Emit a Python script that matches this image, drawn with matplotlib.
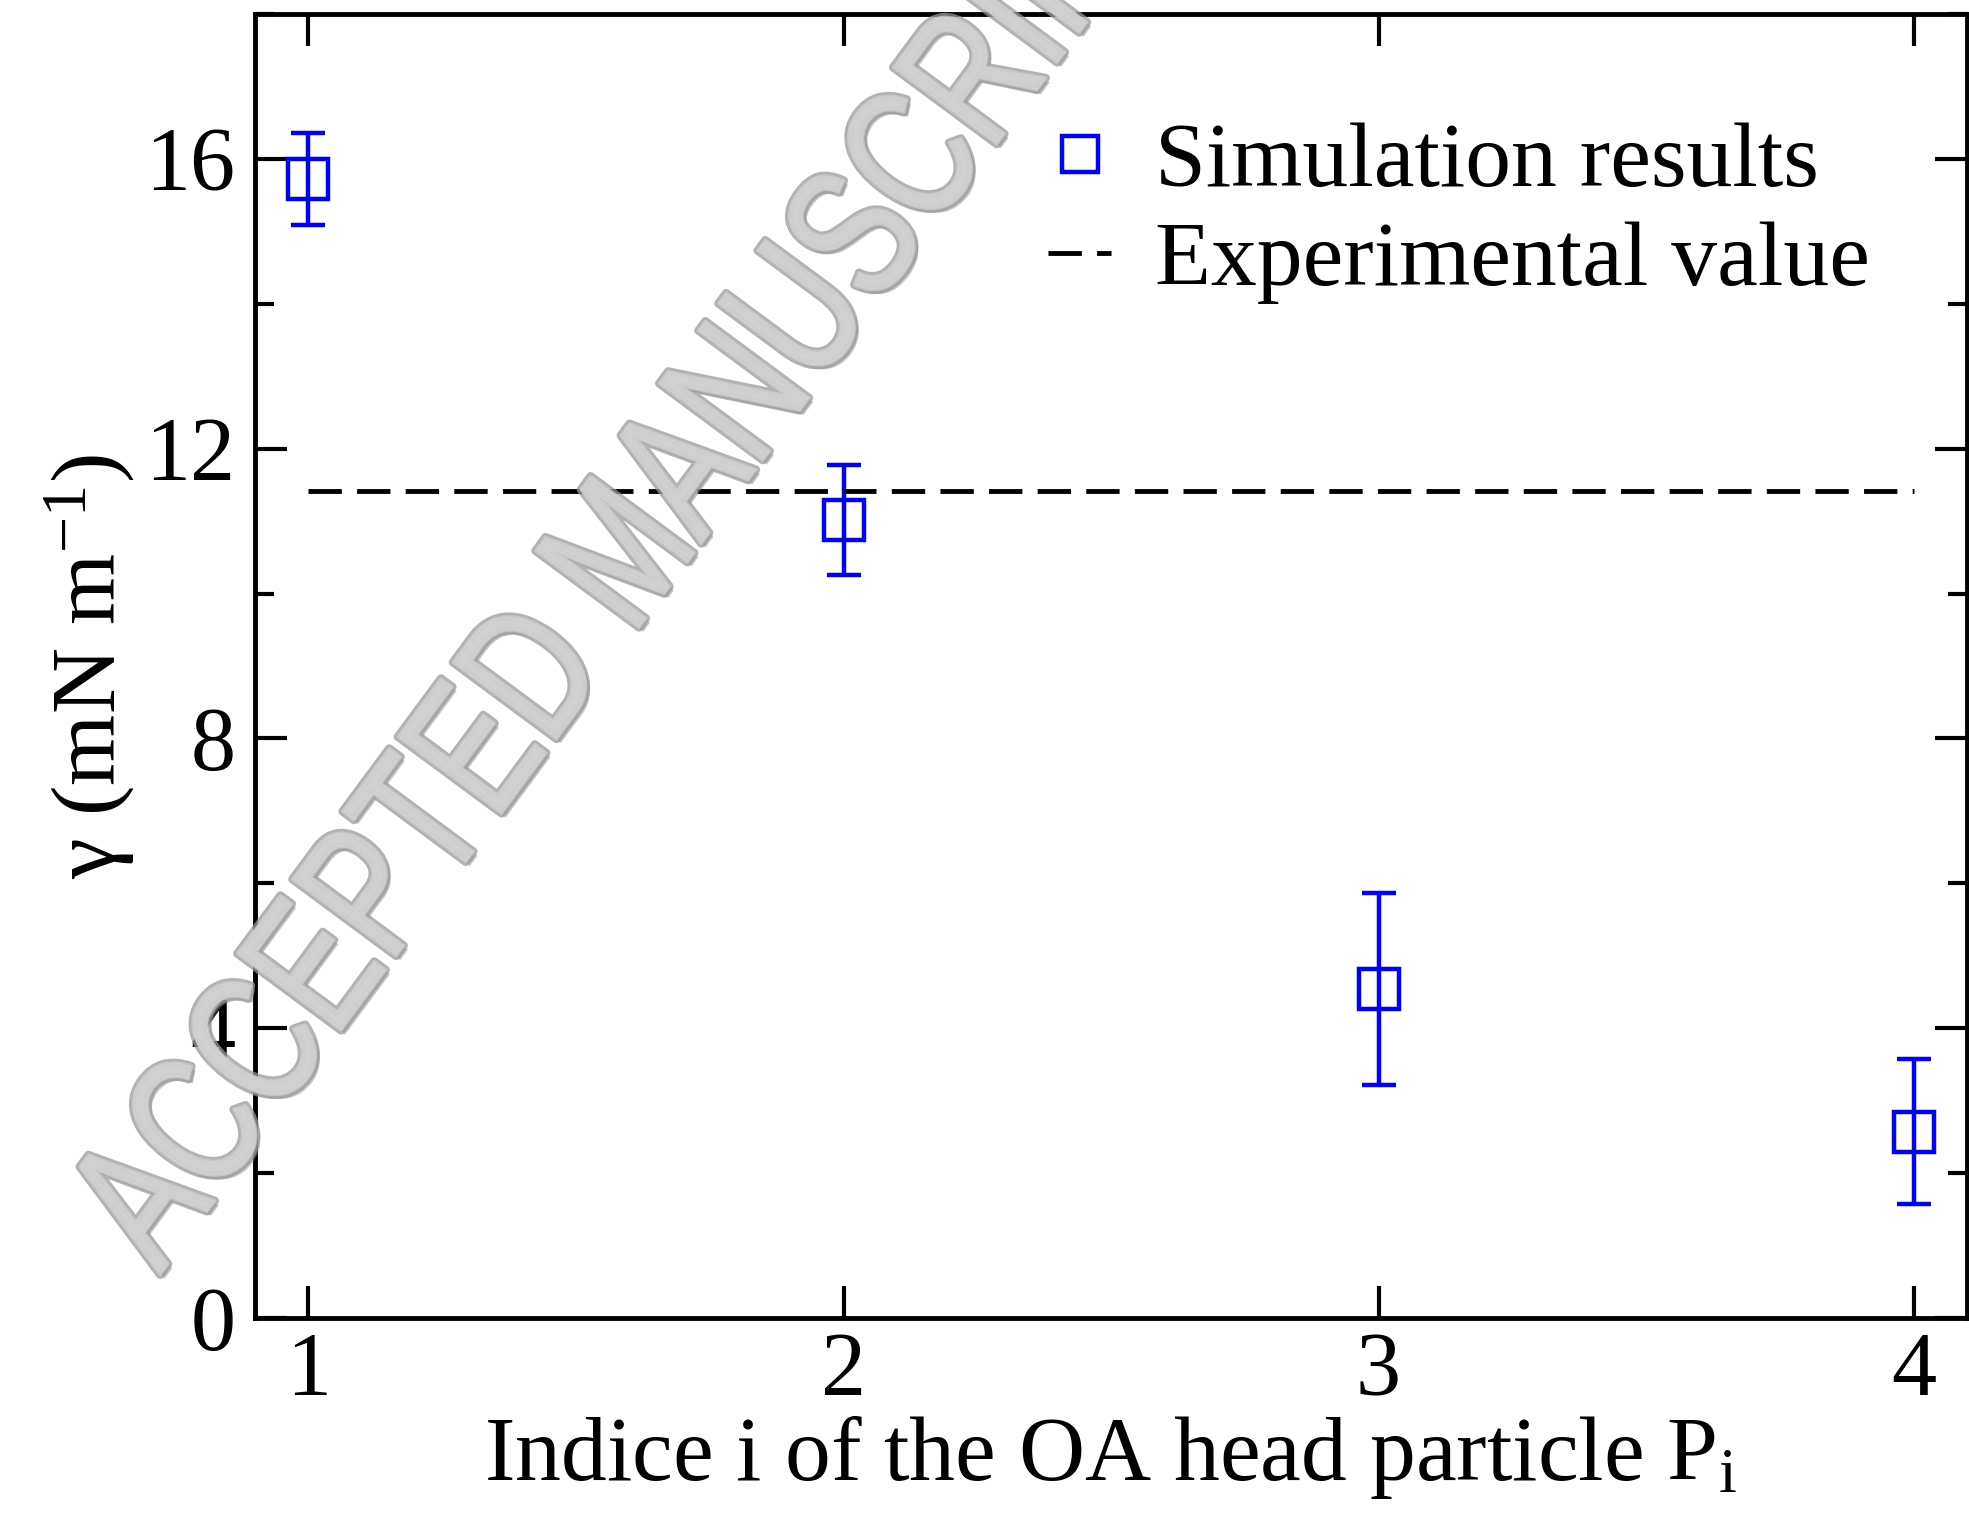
import matplotlib
matplotlib.use('Agg')
import matplotlib.pyplot as plt
import matplotlib.patheffects as pe
from matplotlib.lines import Line2D
from matplotlib.transforms import Affine2D
from matplotlib.ticker import MultipleLocator

# Data
indices = [1, 2, 3, 4]
gamma = [15.72, 11.01, 4.54, 2.57]
gamma_err = [0.64, 0.76, 1.33, 1.00]
exp_x = [1, 4]
exp_gamma = [11.42, 11.42]
legend_labels = ['Simulation results', 'Experimental value']

plt.rcParams['font.family'] = ['Liberation Serif', 'DejaVu Serif']
plt.rcParams['mathtext.fontset'] = 'custom'
plt.rcParams['mathtext.rm'] = 'Liberation Serif'
plt.rcParams['mathtext.it'] = 'Liberation Serif:italic'
plt.rcParams['lines.scale_dashes'] = False


class Squeezed(pe.AbstractPathEffect):
    # wraps another path effect and narrows the glyphs along the baseline
    def __init__(self, inner, sx):
        super().__init__()
        self.inner = inner
        self.sx = sx

    def draw_path(self, renderer, gc, tpath, affine, rgbFace=None):
        self.inner.draw_path(renderer, gc, tpath,
                             Affine2D().scale(self.sx, 1) + affine, rgbFace)


fig = plt.figure(figsize=(19.69, 15.15), dpi=100)
ax = fig.add_axes([0.1295, 0.130, 0.8695, 0.8608])

# Simulation results with error bars
ax.errorbar(indices, gamma, yerr=gamma_err, fmt='s', color='blue',
            markerfacecolor='none', markeredgecolor='blue', markersize=29,
            markeredgewidth=3.2, elinewidth=3.2, capsize=12, capthick=3.2)

# Experimental value
ax.plot(exp_x, exp_gamma, color='black', linewidth=3.5, dashes=(24, 11))

ax.set_xlim(0.9, 4.1)
ax.set_ylim(0, 18)
ax.xaxis.set_major_locator(MultipleLocator(1))
ax.yaxis.set_major_locator(MultipleLocator(4))
ax.yaxis.set_minor_locator(MultipleLocator(2))

ax.tick_params(which='both', direction='in', top=True, right=True,
               labelsize=65, width=3.0, colors='black')
ax.tick_params(which='major', length=23)
ax.tick_params(which='minor', length=14)
ax.tick_params(axis='y', pad=14)
ax.tick_params(axis='x', pad=10)
for s in ax.spines.values():
    s.set_linewidth(3.5)

ax.set_xlabel(r'Indice i of the OA head particle P$_\mathrm{i}$', fontsize=66, labelpad=0)
ax.set_ylabel(r'γ (mN m$^{-1}$)', fontsize=66, labelpad=6)

sim_handle = Line2D([], [], linestyle='none', marker='s', markersize=26,
                    markerfacecolor='none', markeredgecolor='blue', markeredgewidth=3.2)
exp_handle = Line2D([], [], color='black', linewidth=3.5, dashes=(24, 11))
ax.legend([sim_handle, exp_handle], legend_labels, loc='upper left',
          bbox_to_anchor=(0.4632, 0.917), frameon=False, fontsize=66,
          handlelength=0.69, handletextpad=0.48, labelspacing=0.17,
          borderpad=0, borderaxespad=0)

# Watermark
effects = [pe.withSimplePatchShadow(offset=(3, -3), shadow_rgbFace='#808080', alpha=0.45),
           pe.Stroke(linewidth=6, foreground='#999999'),
           pe.Stroke(linewidth=2, foreground='#cfcfcf'), pe.Normal()]
fig.text(160 / 1969, 1 - 1275 / 1515, 'ACCEPTED MANUSCRIPT',
         family=['Liberation Sans', 'DejaVu Sans'], fontsize=135,
         rotation=53.5, rotation_mode='anchor', ha='left', va='baseline',
         color='#d2d2d2', alpha=0.75, zorder=10,
         path_effects=[Squeezed(e, 0.74) for e in effects])

fig.savefig('out.png', dpi=100)
